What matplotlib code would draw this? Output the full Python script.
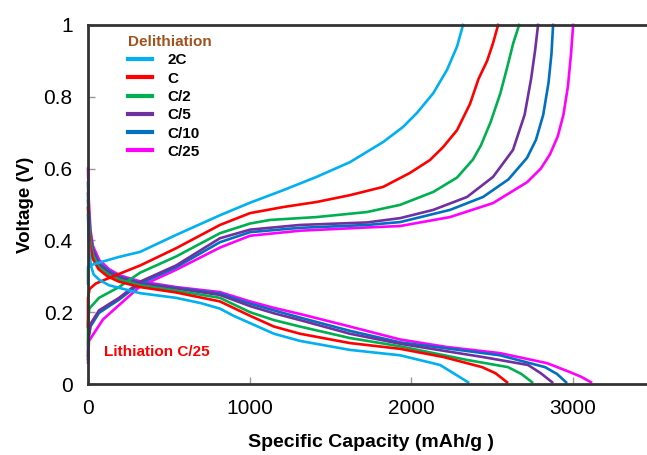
import matplotlib
matplotlib.use("Agg")
import matplotlib.pyplot as plt

plt.rcParams["font.family"] = ["Liberation Sans", "DejaVu Sans"]

# rates and colours (legend order)
rates = ["2C", "C", "C/2", "C/5", "C/10", "C/25"]
colors = ["#00B0F0", "#FF0000", "#00B050", "#7030A0", "#0070C0", "#FF00FF"]

# delithiation curves (capacity mAh/g, voltage V)
deli_cap_2c = [0, 0, 30, 192, 322, 544, 816, 1002, 1208, 1414, 1620, 1825, 1948, 2034, 2135, 2220, 2282, 2319]
deli_v_2c = [0.28, 0.326, 0.333, 0.354, 0.368, 0.415, 0.47, 0.505, 0.54, 0.577, 0.618, 0.674, 0.716, 0.755, 0.81, 0.875, 0.94, 1.0]
deli_cap_c = [0, 0, 10, 49, 155, 322, 544, 816, 1002, 1208, 1414, 1620, 1825, 1991, 2115, 2196, 2282, 2362, 2415, 2468, 2505, 2536]
deli_v_c = [0.16, 0.24, 0.265, 0.28, 0.30, 0.33, 0.378, 0.443, 0.476, 0.493, 0.507, 0.526, 0.549, 0.588, 0.624, 0.66, 0.707, 0.78, 0.85, 0.90, 0.95, 1.0]
deli_cap_c2 = [0, 0, 8, 68, 192, 322, 544, 816, 1002, 1126, 1414, 1725, 1930, 2135, 2282, 2380, 2430, 2490, 2550, 2591, 2630, 2666]
deli_v_c2 = [0.11, 0.17, 0.21, 0.24, 0.27, 0.31, 0.355, 0.42, 0.447, 0.457, 0.465, 0.479, 0.499, 0.535, 0.575, 0.625, 0.665, 0.73, 0.81, 0.88, 0.95, 1.0]
deli_cap_c5 = [0, 2, 19, 68, 192, 322, 544, 816, 1002, 1311, 1725, 1930, 2135, 2344, 2505, 2628, 2700, 2740, 2765, 2783]
deli_v_c5 = [0.08, 0.13, 0.17, 0.205, 0.24, 0.285, 0.33, 0.406, 0.43, 0.443, 0.45, 0.462, 0.485, 0.521, 0.577, 0.652, 0.75, 0.85, 0.93, 1.0]
deli_cap_c10 = [0, 2, 15, 68, 192, 322, 544, 816, 1002, 1311, 1725, 1930, 2239, 2443, 2600, 2715, 2770, 2815, 2848, 2866, 2876]
deli_v_c10 = [0.07, 0.12, 0.16, 0.198, 0.235, 0.28, 0.325, 0.395, 0.423, 0.435, 0.443, 0.451, 0.485, 0.521, 0.57, 0.63, 0.68, 0.75, 0.84, 0.92, 1.0]
deli_cap_c25 = [0, 6, 93, 322, 544, 816, 1002, 1311, 1725, 1930, 2239, 2505, 2715, 2800, 2857, 2905, 2940, 2968, 2987, 3000]
deli_v_c25 = [0.06, 0.12, 0.18, 0.272, 0.318, 0.38, 0.413, 0.427, 0.436, 0.44, 0.465, 0.504, 0.562, 0.60, 0.64, 0.69, 0.75, 0.83, 0.92, 1.0]

# lithiation curves (capacity mAh/g, voltage V)
lith_cap_2c = [0, 3, 8, 18, 35, 70, 130, 322, 544, 700, 816, 900, 1000, 1150, 1311, 1620, 1930, 2177, 2260, 2350]
lith_v_2c = [0.47, 0.42, 0.37, 0.33, 0.305, 0.29, 0.275, 0.253, 0.24, 0.225, 0.21, 0.19, 0.17, 0.14, 0.12, 0.095, 0.08, 0.053, 0.03, 0.005]
lith_cap_c = [0, 4, 12, 28, 65, 120, 192, 322, 544, 816, 1002, 1150, 1311, 1620, 1930, 2200, 2437, 2520, 2591]
lith_v_c = [0.49, 0.44, 0.39, 0.35, 0.32, 0.30, 0.285, 0.27, 0.255, 0.23, 0.19, 0.16, 0.14, 0.114, 0.098, 0.075, 0.047, 0.03, 0.005]
lith_cap_c2 = [0, 4, 14, 30, 70, 125, 200, 322, 544, 816, 1002, 1150, 1311, 1620, 1930, 2344, 2597, 2680, 2746]
lith_v_c2 = [0.51, 0.46, 0.40, 0.36, 0.325, 0.305, 0.29, 0.275, 0.26, 0.24, 0.20, 0.178, 0.16, 0.128, 0.105, 0.067, 0.047, 0.028, 0.005]
lith_cap_c5 = [0, 4, 14, 30, 70, 130, 200, 322, 544, 816, 1002, 1150, 1311, 1620, 1930, 2443, 2721, 2800, 2870]
lith_v_c5 = [0.53, 0.47, 0.41, 0.37, 0.33, 0.31, 0.295, 0.28, 0.266, 0.248, 0.217, 0.197, 0.178, 0.14, 0.112, 0.075, 0.053, 0.03, 0.005]
lith_cap_c10 = [0, 4, 15, 30, 70, 130, 200, 322, 544, 816, 1002, 1150, 1311, 1620, 1930, 2548, 2826, 2900, 2956]
lith_v_c10 = [0.56, 0.49, 0.42, 0.375, 0.335, 0.315, 0.298, 0.282, 0.268, 0.252, 0.224, 0.205, 0.185, 0.148, 0.116, 0.08, 0.047, 0.028, 0.005]
lith_cap_c25 = [0, 4, 15, 30, 70, 130, 200, 322, 544, 816, 1002, 1150, 1311, 1620, 1930, 2220, 2548, 2839, 2981, 3050, 3110]
lith_v_c25 = [0.60, 0.52, 0.43, 0.385, 0.345, 0.32, 0.302, 0.286, 0.27, 0.256, 0.23, 0.212, 0.195, 0.16, 0.124, 0.103, 0.086, 0.058, 0.033, 0.02, 0.005]

deli_caps = [deli_cap_2c, deli_cap_c, deli_cap_c2, deli_cap_c5, deli_cap_c10, deli_cap_c25]
deli_vs = [deli_v_2c, deli_v_c, deli_v_c2, deli_v_c5, deli_v_c10, deli_v_c25]
lith_caps = [lith_cap_2c, lith_cap_c, lith_cap_c2, lith_cap_c5, lith_cap_c10, lith_cap_c25]
lith_vs = [lith_v_2c, lith_v_c, lith_v_c2, lith_v_c5, lith_v_c10, lith_v_c25]

fig = plt.figure(figsize=(6.47, 4.55), dpi=100)
ax = fig.add_axes([88 / 647, 71 / 455, 566 / 647, 359 / 455])

handles = [None] * len(rates)
for i in reversed(range(len(rates))):
    (h,) = ax.plot(deli_caps[i], deli_vs[i], color=colors[i], lw=1.9,
                   label=rates[i], clip_on=False, solid_joinstyle="round")
    ax.plot(lith_caps[i], lith_vs[i], color=colors[i], lw=1.9,
            clip_on=False, solid_joinstyle="round")
    handles[i] = h

ax.set_xlim(0, 3500)
ax.set_ylim(0, 1)
ax.set_xticks([0, 1000, 2000, 3000])
ax.set_yticks([0, 0.2, 0.4, 0.6, 0.8, 1])
ax.set_yticklabels(["0", "0.2", "0.4", "0.6", "0.8", "1"])
ax.tick_params(direction="in", length=5, width=1, color="#999999",
               labelsize=15, pad=11)
for s in ax.spines.values():
    s.set_linewidth(2)
    s.set_color("#333333")

ax.set_xlabel("Specific Capacity (mAh/g )", fontsize=14, fontweight="bold", labelpad=11)
ax.set_ylabel("Voltage (V)", fontsize=13.5, fontweight="bold", labelpad=7)

leg = ax.legend(handles=handles, title="Delithiation", loc="upper left",
                bbox_to_anchor=(0.057, 0.993), frameon=False,
                prop={"weight": "bold", "size": 11},
                handlelength=1.6, handletextpad=1.0, labelspacing=0.28,
                borderpad=0, alignment="left")
leg.get_title().set_fontweight("bold")
leg.get_title().set_fontsize(11)
leg.get_title().set_color("#A0521E")
for line in leg.get_lines():
    line.set_linewidth(3)

ax.text(100, 0.09, "Lithiation C/25", color="#FF0000", fontsize=11,
        fontweight="bold", va="center", ha="left")

fig.savefig("out.png", dpi=100)
